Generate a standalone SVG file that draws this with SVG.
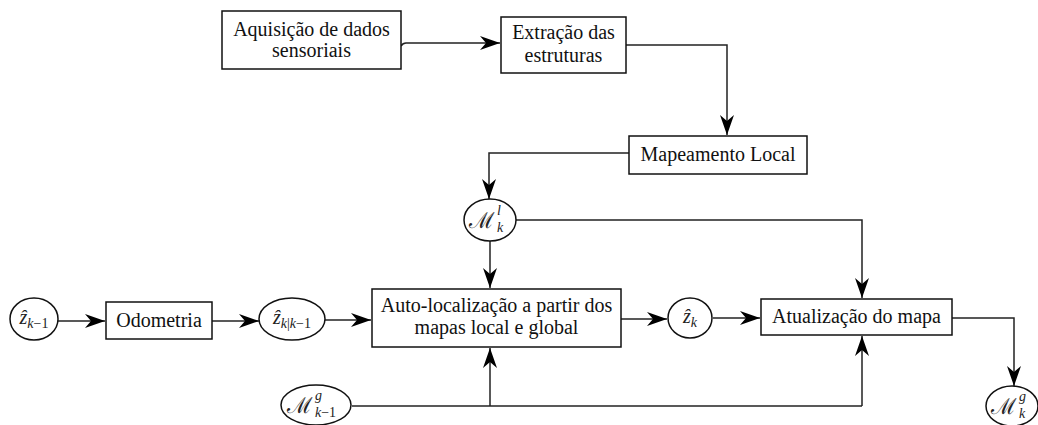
<svg xmlns="http://www.w3.org/2000/svg" width="1038" height="425" viewBox="0 0 1038 425">
<style>
.box{fill:#fff;stroke:#111;stroke-width:1.5}
.ell{fill:#fff;stroke:#111;stroke-width:1.5}
.lbl{font-family:'Liberation Serif',serif;font-size:20px;fill:#111;text-anchor:middle}
.m{font-family:'Liberation Serif',serif;font-size:20px;fill:#222}
.it{font-style:italic}
.sc{font-size:14px}
.cal{font-family:'DejaVu Serif',serif;font-size:22px}
.con{fill:none;stroke:#222;stroke-width:1.5;marker-end:url(#arr)}
.ln{fill:none;stroke:#222;stroke-width:1.5}
</style>
<defs>
<marker id="arr" markerUnits="userSpaceOnUse" viewBox="-21 -8 22 16" refX="0" refY="0" markerWidth="22" markerHeight="16" orient="auto">
<path d="M0,0 L-20,-7 L-14,0 L-20,7 Z" fill="#000"/>
</marker>
</defs>
<rect width="1038" height="425" fill="#fff"/>
<g id="connectors">
<path class="con" d="M401,46 q2,-3 5,-3 L500,43"/>
<path class="con" d="M626,45 H727 V135"/>
<path class="con" d="M629,153 H489 V199"/>
<path class="con" d="M490,240 V288"/>
<path class="con" d="M516,220 H862 V298"/>
<path class="con" d="M58,321 H105"/>
<path class="con" d="M212,321 H259"/>
<path class="con" d="M325,320 H371"/>
<path class="con" d="M621,319 H667"/>
<path class="con" d="M713,318 H760"/>
<path class="con" d="M952,318 H1014 V386"/>
<path class="ln" d="M352,406 H862"/>
<path class="con" d="M490,406 V348"/>
<path class="con" d="M862,406 V336"/>
</g>
<g id="n-aquisicao">
<rect class="box" x="222" y="11" width="179" height="58"/>
<text class="lbl" x="311.5" y="36">Aquisição de dados</text>
<text class="lbl" x="311.5" y="57">sensoriais</text>
</g>
<g id="n-extracao">
<rect class="box" x="501" y="17" width="125" height="56"/>
<text class="lbl" x="563.5" y="39">Extração das</text>
<text class="lbl" x="563.5" y="62">estruturas</text>
</g>
<g id="n-mapeamento">
<rect class="box" x="629" y="136" width="178" height="38"/>
<text class="lbl" x="718" y="161">Mapeamento Local</text>
</g>
<g id="n-mkl">
<ellipse class="ell" cx="490" cy="220" rx="26" ry="21"/>
<text class="m cal" x="469" y="228">ℳ</text>
<text class="m it sc" x="497" y="215">l</text>
<text class="m it sc" x="497" y="232">k</text>
</g>
<g id="n-zk1">
<ellipse class="ell" cx="34" cy="319" rx="24" ry="21"/>
<text class="m" x="34" y="324" text-anchor="middle"><tspan class="it">ẑ</tspan><tspan class="sc" dy="4"><tspan class="it">k</tspan>−1</tspan></text>
</g>
<g id="n-odometria">
<rect class="box" x="106" y="302" width="106" height="37"/>
<text class="lbl" x="159" y="327">Odometria</text>
</g>
<g id="n-zkk1">
<ellipse class="ell" cx="292" cy="319" rx="33" ry="21"/>
<text class="m" x="292" y="324" text-anchor="middle"><tspan class="it">ẑ</tspan><tspan class="sc" dy="4"><tspan class="it">k</tspan>|<tspan class="it">k</tspan>−1</tspan></text>
</g>
<g id="n-autoloc">
<rect class="box" x="372" y="289" width="249" height="58"/>
<text class="lbl" x="496.5" y="312">Auto-localização a partir dos</text>
<text class="lbl" x="496.5" y="334">mapas local e global</text>
</g>
<g id="n-zk">
<ellipse class="ell" cx="690" cy="318" rx="22" ry="20"/>
<text class="m" x="690" y="323" text-anchor="middle"><tspan class="it">ẑ</tspan><tspan class="sc it" dy="4">k</tspan></text>
</g>
<g id="n-atualizacao">
<rect class="box" x="761" y="299" width="191" height="36"/>
<text class="lbl" x="856.5" y="323">Atualização do mapa</text>
</g>
<g id="n-mk1g">
<ellipse class="ell" cx="316" cy="405" rx="35" ry="20"/>
<text class="m cal" x="287" y="413">ℳ</text>
<text class="m it sc" x="315" y="400">g</text>
<text class="m sc" x="315" y="417"><tspan class="it">k</tspan>−1</text>
</g>
<g id="n-mkg">
<ellipse class="ell" cx="1012" cy="406" rx="26" ry="20"/>
<text class="m cal" x="991" y="414">ℳ</text>
<text class="m it sc" x="1019" y="401">g</text>
<text class="m it sc" x="1019" y="418">k</text>
</g>
</svg>
